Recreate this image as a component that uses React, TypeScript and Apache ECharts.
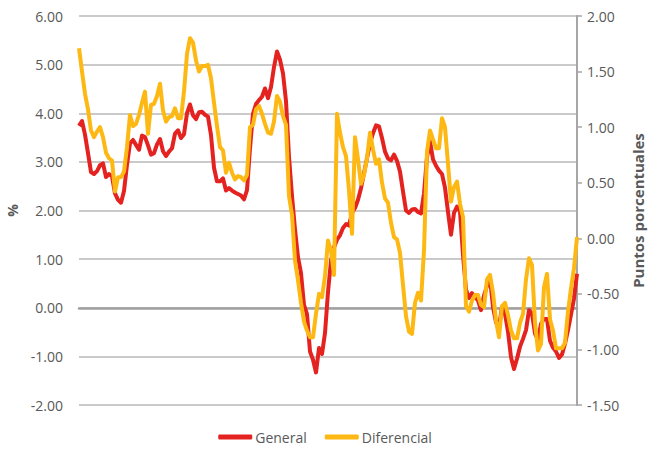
import React, { useEffect, useRef } from "react";
import * as echarts from "echarts";

const general: number[] = [
  3.74, 3.84, 3.56, 3.18, 2.79, 2.75, 2.81, 2.93, 2.97, 2.69,
  2.75, 2.70, 2.35, 2.22, 2.16, 2.40, 2.94, 3.38, 3.45, 3.35,
  3.25, 3.54, 3.51, 3.34, 3.15, 3.18, 3.36, 3.47, 3.22, 3.12,
  3.21, 3.28, 3.58, 3.65, 3.49, 3.57, 4.00, 4.18, 3.96, 3.88,
  4.02, 4.03, 3.97, 3.93, 3.55, 2.88, 2.60, 2.60, 2.66, 2.41,
  2.46, 2.41, 2.37, 2.34, 2.31, 2.23, 2.42, 3.28, 3.99, 4.19,
  4.27, 4.34, 4.51, 4.31, 4.54, 4.95, 5.27, 5.10, 4.82, 4.25,
  3.10, 2.30, 1.61, 1.04, 0.71, 0.06, -0.13, -0.90, -1.07, -1.33,
  -0.83, -0.95, -0.52, 0.32, 0.97, 1.24, 1.40, 1.49, 1.64, 1.72,
  1.69, 1.95, 2.05, 2.22, 2.46, 2.77, 3.07, 3.38, 3.59, 3.75,
  3.73, 3.49, 3.21, 3.07, 3.03, 3.15, 3.02, 2.80, 2.39, 2.00,
  1.95, 2.02, 2.03, 1.97, 1.94, 2.35, 3.10, 3.42, 3.05, 2.92,
  2.82, 2.75, 2.47, 1.97, 1.50, 1.95, 2.08, 1.98, 1.09, 0.37,
  0.20, 0.30, 0.22, 0.15, -0.05, 0.25, 0.45, 0.60, 0.02, -0.30,
  -0.40, 0.02, -0.12, -0.49, -1.02, -1.26, -1.05, -0.80, -0.64, -0.46,
  -0.05, -0.12, -0.53, -0.66, -0.33, -0.23, -0.23, -0.68, -0.82, -0.90,
  -1.03, -0.96, -0.74, -0.46, -0.14, 0.19, 0.70,
];

const diferencial: number[] = [
  1.71, 1.50, 1.30, 1.16, 0.97, 0.91, 0.96, 1.00, 0.91, 0.77,
  0.72, 0.70, 0.42, 0.55, 0.55, 0.60, 0.82, 1.11, 1.01, 1.03,
  1.11, 1.22, 1.32, 0.94, 1.20, 1.21, 1.28, 1.39, 1.15, 1.05,
  1.09, 1.10, 1.17, 1.08, 1.08, 1.32, 1.66, 1.80, 1.76, 1.60,
  1.50, 1.55, 1.55, 1.56, 1.44, 1.22, 1.01, 0.82, 0.79, 0.59,
  0.68, 0.59, 0.53, 0.56, 0.55, 0.52, 0.57, 1.00, 1.02, 1.16,
  1.19, 1.12, 1.03, 0.95, 0.94, 1.05, 1.28, 1.23, 1.10, 1.02,
  0.38, 0.21, -0.20, -0.38, -0.58, -0.75, -0.83, -0.89, -0.89, -0.68,
  -0.50, -0.53, -0.34, -0.02, -0.11, -0.33, 1.12, 0.95, 0.82, 0.74,
  0.43, 0.04, 0.91, 0.71, 0.49, 0.57, 0.72, 0.95, 0.80, 0.67,
  0.71, 0.50, 0.36, 0.32, 0.14, 0.01, -0.01, -0.13, -0.42, -0.70,
  -0.84, -0.86, -0.58, -0.49, -0.56, -0.11, 0.78, 0.97, 0.89, 0.81,
  0.81, 1.08, 1.00, 0.67, 0.33, 0.46, 0.51, 0.31, 0.19, -0.61,
  -0.66, -0.56, -0.51, -0.51, -0.60, -0.62, -0.37, -0.33, -0.49, -0.74,
  -0.89, -0.61, -0.58, -0.69, -0.83, -0.90, -0.90, -0.76, -0.68, -0.37,
  -0.18, -0.24, -0.76, -1.01, -0.95, -0.44, -0.32, -0.73, -0.83, -0.99,
  -0.99, -0.99, -0.94, -0.66, -0.45, -0.27, 0.01,
];

const categories: string[] = general.map((_, i) => String(i + 1));

const seriesNames = ["General", "Diferencial"];
const leftAxisName = "%";
const rightAxisName = "Puntos porcentuales";

const FONT = "'Open Sans', 'Noto Sans', sans-serif";
const TEXT = "#595959";

export default function App() {
  const ref = useRef<HTMLDivElement>(null);

  useEffect(() => {
    if (!ref.current) return;
    document.documentElement.style.overflow = "hidden";
    document.body.style.margin = "0";
    document.body.style.overflow = "hidden";
    const chart = echarts.init(ref.current, undefined, {
      renderer: "svg",
      width: 650,
      height: 451,
    });
    chart.setOption({
      animation: false,
      backgroundColor: "#ffffff",
      textStyle: { fontFamily: FONT },
      grid: {
        left: 79,
        right: 73,
        top: 16,
        bottom: 46,
        containLabel: false,
        outerBoundsMode: "none",
      },
      legend: {
        data: seriesNames,
        left: "center",
        top: 425,
        icon: "roundRect",
        itemWidth: 34,
        itemHeight: 5,
        itemGap: 18,
        textStyle: { color: TEXT, fontSize: 14, fontFamily: FONT, padding: [0, 0, 0, -2] },
      },
      xAxis: {
        type: "category",
        data: categories,
        boundaryGap: false,
        axisLine: {
          show: true,
          onZero: true,
          onZeroAxisIndex: 0,
          lineStyle: { color: "#a0a0a0", width: 2.5 },
        },
        axisTick: { show: false },
        axisLabel: { show: false },
        splitLine: { show: false },
      },
      yAxis: [
        {
          type: "value",
          min: -2,
          max: 6,
          interval: 1,
          position: "left",
          name: leftAxisName,
          nameLocation: "middle",
          nameGap: 55,
          nameRotate: 90,
          nameTextStyle: { color: TEXT, fontSize: 14, fontWeight: "bold", fontFamily: FONT },
          axisLine: { show: false },
          axisTick: { show: false },
          axisLabel: {
            color: TEXT,
            fontSize: 14,
            margin: 16,
            fontFamily: FONT,
            formatter: (v: number) => v.toFixed(2),
          },
          splitLine: { show: true, lineStyle: { color: "#b8b8b8", width: 1.5 } },
        },
        {
          type: "value",
          min: -1.5,
          max: 2,
          interval: 0.5,
          position: "right",
          name: rightAxisName,
          nameLocation: "middle",
          nameGap: 52,
          nameRotate: 90,
          nameTextStyle: { color: TEXT, fontSize: 15, fontWeight: "bold", fontFamily: FONT },
          axisLine: { show: true, lineStyle: { color: "#a6a6a6", width: 2 } },
          axisTick: { show: true, inside: false, length: 5, lineStyle: { color: "#a6a6a6", width: 1.5 } },
          axisLabel: {
            color: TEXT,
            fontSize: 14,
            margin: 10,
            fontFamily: FONT,
            formatter: (v: number) => v.toFixed(2),
          },
          splitLine: { show: false },
        },
      ],
      series: [
        {
          name: seriesNames[0],
          type: "line",
          yAxisIndex: 0,
          data: general,
          showSymbol: false,
          symbol: "none",
          lineStyle: { color: "#e42320", width: 4, join: "round" },
          itemStyle: { color: "#e42320" },
          z: 2,
        },
        {
          name: seriesNames[1],
          type: "line",
          yAxisIndex: 1,
          data: diferencial,
          showSymbol: false,
          symbol: "none",
          lineStyle: { color: "#fdb813", width: 4, join: "round" },
          itemStyle: { color: "#fdb813" },
          z: 3,
        },
      ],
    });
    return () => chart.dispose();
  }, []);

  return (
    <div
      ref={ref}
      style={{ position: "fixed", left: 0, top: 0, width: 650, height: 451 }}
    />
  );
}
